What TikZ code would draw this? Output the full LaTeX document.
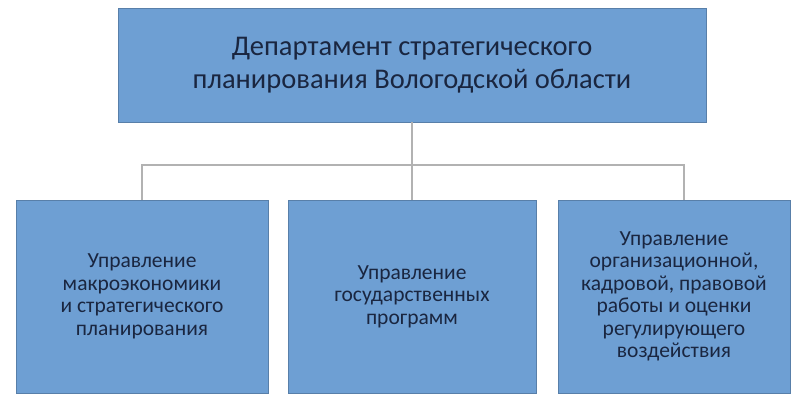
\documentclass[tikz,border=0pt]{standalone}
\usepackage{fontspec}
\setmainfont{Carlito}
\usetikzlibrary{positioning}
\definecolor{boxblue}{HTML}{6E9FD3}
\definecolor{txtblue}{HTML}{1A2640}
\tikzset{
  unit/.style={draw=boxblue!80!black, fill=boxblue, text=txtblue, align=center, inner sep=0pt},
  subunit/.style={unit, minimum height=193pt, font=\fontsize{21.5}{22.5}\selectfont},
  link/.style={draw=gray!60, line width=1.2pt}
}
\begin{document}
\begin{tikzpicture}[x=1pt,y=-1pt]
\useasboundingbox (0,0) rectangle (804,410);

\node[unit, minimum width=588pt, minimum height=114pt, font=\fontsize{28.5}{33}\selectfont] (dep) at (412,65)
  {Департамент стратегического\\планирования Вологодской области};

\node[subunit, minimum width=252pt] (u1) at (142,296.5)
  {Управление\\макроэкономики\\и стратегического\\планирования};
\node[subunit, minimum width=248pt] (u2) at (412,296.5)
  {Управление\\государственных\\программ};
\node[subunit, minimum width=232pt] (u3) at (674,296.5)
  {Управление\\организационной,\\кадровой, правовой\\работы и оценки\\регулирующего\\воздействия};

\coordinate (hub) at (412,165);
\draw[link] (dep.south) -- (hub);
\draw[link] (142,200) |- (hub) -| (684,200);
\draw[link] (hub) -- (u2.north);
\end{tikzpicture}
\end{document}
